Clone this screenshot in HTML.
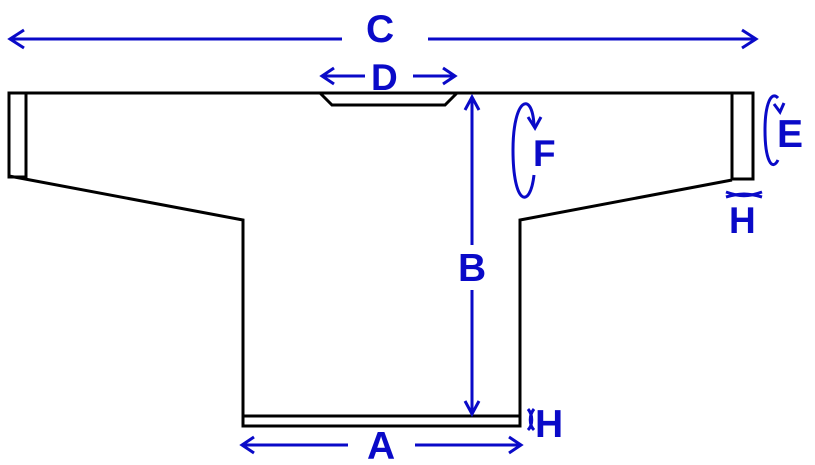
<!DOCTYPE html>
<html><head><style>body{margin:0;background:#fff}svg{display:block}text{font-family:"Liberation Sans",sans-serif;font-weight:bold;fill:#0a0ac8}</style></head>
<body>
<svg width="815" height="465" viewBox="0 0 815 465" xmlns="http://www.w3.org/2000/svg">
<g fill="none" stroke="#000" stroke-width="3">
<line x1="8" y1="93" x2="754" y2="93"/>
<rect x="9" y="93" width="17" height="84"/>
<polyline points="9,176 243,220 243,426 520,426 520,220 732,180"/>
<rect x="732" y="93" width="21" height="86"/>
<line x1="243" y1="416" x2="520" y2="416"/>
<polyline points="320,93 332,105 445,105 457,93"/>
</g>
<g fill="none" stroke="#0a0ac8" stroke-width="3">
<line x1="10" y1="39" x2="342" y2="39"/><polyline points="24,30 10,39 24,48"/>
<line x1="428" y1="39" x2="756" y2="39"/><polyline points="742,30 756,39 742,48"/>
<line x1="322" y1="76" x2="365" y2="76"/><polyline points="334,68 322,76 334,84"/>
<line x1="413" y1="76" x2="455" y2="76"/><polyline points="443,68 455,76 443,84"/>
<line x1="472" y1="97" x2="472" y2="245"/><polyline points="465,110 472,97 479,110"/>
<line x1="472" y1="290" x2="472" y2="414"/><polyline points="465,401 472,414 479,401"/>
<line x1="242" y1="445" x2="348" y2="445"/><polyline points="254,437 242,445 254,453"/>
<line x1="415" y1="445" x2="521" y2="445"/><polyline points="509,437 521,445 509,453"/>
<path d="M534,125 C532,90 513,98 513,150 C513,205 530,210 534,175"/>
<polyline points="528,117 535,128 541,117"/>
<path d="M778,98 C771,90 765,105 765,130 C765,160 772,172 778,160"/>
<polyline points="774,104 780,112 784,103"/>
<path d="M726,197 C740,193 748,193 762,197"/>
<path d="M726,192 C740,197 748,197 762,192"/>
<path d="M528,409 C533,415 533,425 528,430"/>
<path d="M534,409 C529,415 529,425 534,430"/>
</g>
<text x="366" y="42" font-size="39">C</text>
<text x="371" y="90" font-size="37">D</text>
<text x="458" y="281" font-size="39">B</text>
<text x="533" y="166" font-size="37">F</text>
<text x="777" y="147" font-size="39">E</text>
<text x="729" y="233" font-size="37">H</text>
<text x="535" y="437" font-size="39">H</text>
<text x="367" y="459" font-size="39">A</text>
</svg>
</body></html>
